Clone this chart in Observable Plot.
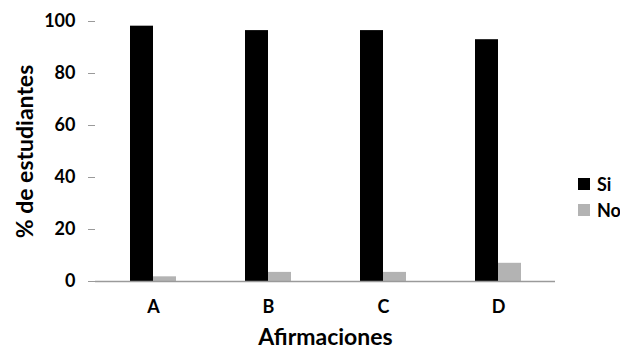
<!DOCTYPE html>
<html>
<head>
<meta charset="utf-8">
<script src="https://cdn.jsdelivr.net/npm/d3@7"></script>
<script src="https://cdn.jsdelivr.net/npm/@observablehq/plot@0.6"></script>
<style>
  body { margin: 0; background: #fff; }
  #wrap { position: relative; width: 620px; height: 350px; font-family: Lato, "Open Sans", sans-serif; }
  #legend { position: absolute; left: 578px; top: 171px; font-weight: bold; font-size: 18px; color: #000; }
  .row { display: flex; align-items: center; height: 26px; }
  .sw { width: 12px; height: 12px; margin-right: 7px; }
</style>
</head>
<body>
<div id="wrap"><div id="legend"></div></div>
<script>
const categories = ["A", "B", "C", "D"];
const series = ["Si", "No"];
const siValues = [98.2, 96.5, 96.5, 93.0];
const noValues = [1.8, 3.5, 3.5, 7.0];
const yTicks = [0, 20, 40, 60, 80, 100];
const colors = ["#000000", "#b3b3b3"];

const data = categories.map((c, i) => ({cat: c, si: siValues[i], no: noValues[i]}));

const chart = Plot.plot({
  width: 620,
  height: 350,
  marginLeft: 95,
  marginRight: 65,
  marginTop: 21,
  marginBottom: 69,
  style: {fontFamily: "Lato, 'Open Sans', sans-serif", fontWeight: "bold", color: "#000", background: "#fff"},
  x: {domain: categories, paddingInner: 0.6, paddingOuter: 0.3, label: null},
  y: {domain: [0, 100], label: null},
  marks: [
    Plot.barY(data, {x: "cat", y: "si", fill: colors[0], insetRight: 23}),
    Plot.barY(data, {x: "cat", y: "no", fill: colors[1], insetLeft: 23}),
    Plot.ruleY([0], {stroke: "#9a9a9a", strokeWidth: 1.5}),
    Plot.axisY({ticks: yTicks, tickSize: 7, tickPadding: 13, fontSize: 18, line: true, stroke: "#9a9a9a", strokeOpacity: 1, label: null}),
    Plot.axisX({tickSize: 0, tickPadding: 19, fontSize: 18, label: null}),
    Plot.text(["% de estudiantes"], {frameAnchor: "left", textAnchor: "middle", lineAnchor: "middle", dx: -70, rotate: -90, fontSize: 23, fontWeight: "bold", fill: "#000"}),
    Plot.text(["Afirmaciones"], {frameAnchor: "bottom", textAnchor: "middle", lineAnchor: "middle", dy: 56, fontSize: 23, fontWeight: "bold", fill: "#000"})
  ]
});
document.getElementById("wrap").prepend(chart);

const legend = document.getElementById("legend");
series.forEach((s, i) => {
  const row = document.createElement("div");
  row.className = "row";
  const sw = document.createElement("div");
  sw.className = "sw";
  sw.style.background = colors[i];
  const t = document.createElement("span");
  t.textContent = s;
  row.append(sw, t);
  legend.append(row);
});
</script>
</body>
</html>
